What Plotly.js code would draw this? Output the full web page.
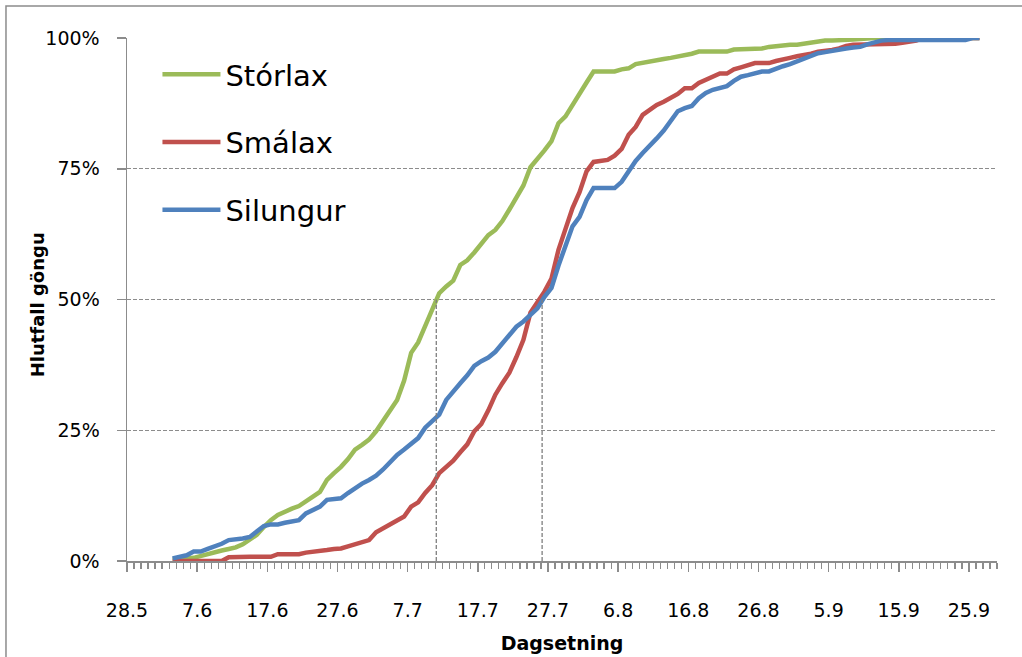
<!DOCTYPE html>
<html>
<head>
<meta charset="utf-8">
<script src="https://cdn.plot.ly/plotly-3.0.1.min.js"></script>
<style>
  html, body { margin: 0; padding: 0; background: #fff; }
  #chart { width: 1022px; height: 657px; }
</style>
</head>
<body>
<div id="chart"></div>
<script>
// ---- data ----
const firstDay = '2013-06-03';   // first day with counts (3.6)
const seriesNames = ['Stórlax', 'Smálax', 'Silungur'];
const seriesColors = ['#9BBB59', '#C0504D', '#4F81BD'];

// cumulative share of run (%), one value per day starting at firstDay
const storlax = [
  0.3, 0.5, 0.5, 0.6, 1.0, 1.3, 1.6, 2.0, 2.3, 2.6,
  3.2, 4.0, 5.0, 6.5, 7.8, 8.8, 9.5, 10.0, 10.5, 11.5,
  12.3, 13.2, 15.5, 16.8, 18.0, 19.5, 21.3, 22.2, 23.2, 24.8,
  26.8, 28.8, 30.8, 34.5, 39.8, 41.8, 45.0, 48.0, 51.2, 52.5,
  53.6, 56.6, 57.5, 59.0, 60.5, 62.3, 63.3, 65.0, 67.2, 69.5,
  71.8, 75.3, 76.8, 78.5, 80.3, 83.7, 85.0, 87.3, 89.4, 91.5,
  93.6, 93.6, 93.6, 93.6, 94.0, 94.2, 95.0, 95.3, 95.6, 95.8,
  96.0, 96.2, 96.4, 96.6, 97.0, 97.4, 97.4, 97.4, 97.4, 97.4,
  97.8, 97.8, 97.8, 97.8, 98.0, 98.3, 98.5, 98.7, 98.7, 98.7,
  98.9, 99.3, 99.5, 99.5, 99.5, 99.5, 99.5, 99.7, 99.8, 100,
  100, 100, 100, 100, 100, 100, 100, 100, 100, 100,
  100, 100, 100, 100, 100, 100
];
const smalax = [
  0, 0, 0, 0, 0, 0, 0, 0, 0.7, 0.8,
  0.8, 0.8, 0.8, 0.8, 0.8, 1.3, 1.3, 1.3, 1.3, 1.6,
  1.7, 1.8, 2.1, 2.3, 2.4, 2.8, 3.2, 3.6, 4.0, 5.5,
  6.3, 7.0, 7.8, 8.5, 10.4, 11.2, 13.0, 14.5, 16.8, 18.0,
  19.2, 20.8, 22.3, 24.8, 26.2, 28.8, 31.8, 34.0, 36.0, 39.0,
  42.3, 47.5, 49.5, 51.5, 54.0, 59.5, 63.5, 67.5, 70.5, 74.5,
  76.3, 76.5, 76.7, 77.5, 78.8, 81.5, 83.0, 85.3, 86.2, 87.2,
  87.8, 88.5, 89.3, 90.4, 90.4, 91.4, 92.0, 92.8, 93.2, 93.2,
  94.0, 94.4, 94.8, 95.2, 95.2, 95.2, 95.6, 96.0, 96.2, 96.5,
  96.7, 97.0, 97.4, 97.5, 97.7, 98.0, 98.5, 98.7, 98.7, 98.7,
  98.7, 98.7, 98.7, 98.9, 99.1, 99.2, 99.5, 100, 100, 100,
  100, 100, 100, 100, 100, 100
];
const silungur = [
  0.5, 0.8, 1.1, 1.8, 1.8, 2.3, 2.7, 3.3, 4.0, 4.1,
  4.3, 4.6, 5.6, 6.7, 7.0, 7.0, 7.3, 7.5, 7.8, 9.1,
  9.7, 10.4, 11.7, 11.9, 12.0, 13.0, 14.0, 14.8, 15.5, 16.3,
  17.5, 18.8, 20.3, 21.3, 22.3, 23.5, 25.5, 26.8, 28.0, 30.8,
  32.5, 34.0, 35.5, 37.3, 38.2, 38.9, 40.0, 41.5, 43.3, 44.8,
  45.8, 47.0, 48.3, 50.5, 52.2, 56.5, 60.5, 64.0, 65.8, 69.0,
  71.3, 71.3, 71.3, 71.3, 72.5, 74.5, 76.5, 78.0, 79.3, 80.8,
  82.3, 84.3, 86.0, 86.6, 87.0, 88.5, 89.5, 90.1, 90.5, 90.8,
  91.8, 92.6, 92.9, 93.3, 93.6, 93.6, 94.2, 94.6, 95.0, 95.5,
  96.0, 96.5, 97.1, 97.3, 97.6, 97.7, 98.0, 98.2, 98.3, 98.8,
  99.2, 99.5, 99.6, 99.6, 99.6, 99.6, 99.6, 99.6, 99.6, 99.6,
  99.6, 99.6, 99.6, 99.6, 100, 100
];

// x-axis tick dates and their labels (every 10 days)
const tickDates = ['2013-05-28','2013-06-07','2013-06-17','2013-06-27','2013-07-07','2013-07-17',
                   '2013-07-27','2013-08-06','2013-08-16','2013-08-26','2013-09-05','2013-09-15','2013-09-25'];
const tickLabels = ['28.5','7.6','17.6','27.6','7.7','17.7','27.7','6.8','16.8','26.8','5.9','15.9','25.9'];
const yTickVals = [0, 25, 50, 75, 100];
const yTickLabels = ['0%', '25%', '50%', '75%', '100%'];

// 50% passage dates (drop lines)
const medianDates = ['2013-07-10 14:00', '2013-07-25 16:00'];
const medianLevel = 50;

const xTitle = 'Dagsetning';
const yTitle = 'Hlutfall göngu';

// ---- build ----
const DAY = 86400000;
function addDays(dateStr, n) {
  const t = Date.parse(dateStr + 'T00:00:00Z') + n * DAY;
  return new Date(t).toISOString().slice(0, 10);
}
function dayList(n) { const a = []; for (let i = 0; i < n; i++) a.push(addDays(firstDay, i)); return a; }
function halfDayBefore(dateStr) {
  return new Date(Date.parse(dateStr + 'T00:00:00Z') - DAY / 2).toISOString().replace('T', ' ').slice(0, 19);
}

const allSeries = [storlax, smalax, silungur];
const traces = allSeries.map((vals, i) => ({
  type: 'scatter', mode: 'lines',
  x: dayList(vals.length), y: vals,
  name: seriesNames[i],
  legendgroup: 'g' + i,
  line: { color: seriesColors[i], width: 4.5 },
  hoverinfo: 'x+y+name'
}));

const shapes = medianDates.map(d => ({
  type: 'line', xref: 'x', yref: 'y',
  x0: d, x1: d, y0: 0, y1: medianLevel,
  line: { color: '#7f7f7f', width: 1.3, dash: '4px,2px' }
}));
// outer chart frame
shapes.push({
  type: 'rect', xref: 'paper', yref: 'paper',
  x0: -0.1391, x1: 1.05, y0: -0.25, y1: 1.0612,
  line: { color: '#8c8c8c', width: 1.5 }, fillcolor: 'rgba(0,0,0,0)', layer: 'above'
});

const layout = {
  width: 1022, height: 657,
  margin: { l: 127, r: 25, t: 38, b: 96 },
  paper_bgcolor: '#ffffff', plot_bgcolor: '#ffffff',
  font: { family: 'DejaVu Sans, sans-serif', color: '#000000' },
  showlegend: true,
  legend: {
    x: 0.035, y: 0.979, xanchor: 'left', yanchor: 'top',
    bgcolor: 'rgba(0,0,0,0)', borderwidth: 0,
    font: { family: 'DejaVu Sans, sans-serif', size: 29, color: '#000' },
    traceorder: 'grouped', tracegroupgap: 27,
    itemwidth: 58
  },
  xaxis: {
    type: 'date',
    range: ['2013-05-27 12:00', '2013-09-28 12:00'],
    tickmode: 'array',
    tickvals: tickDates.map(halfDayBefore),
    ticktext: tickLabels,
    ticklabelshift: 3.5,
    ticklabelstandoff: 23,
    ticks: 'outside', ticklen: 9, tickwidth: 1.5, tickcolor: '#8c8c8c',
    showline: true, linecolor: '#8c8c8c', linewidth: 1.5,
    showgrid: false, zeroline: false,
    tickfont: { family: 'DejaVu Sans, sans-serif', size: 19, color: '#000' },
    minor: { tickmode: 'linear', tick0: '2013-05-27 12:00', dtick: DAY, ticks: 'outside', ticklen: 6, tickwidth: 1.2, tickcolor: '#8c8c8c', showgrid: false },
    title: { text: xTitle, standoff: 16, font: { family: 'DejaVu Sans, sans-serif', size: 19, color: '#000', weight: 'bold' } },
    fixedrange: true
  },
  yaxis: {
    range: [0, 100],
    tickmode: 'array', tickvals: yTickVals, ticktext: yTickLabels,
    ticks: 'outside', ticklen: 9, tickwidth: 1.5, tickcolor: '#8c8c8c',
    ticklabelstandoff: 13,
    showline: true, linecolor: '#8c8c8c', linewidth: 1.5,
    showgrid: true, gridcolor: '#8c8c8c', gridwidth: 1.3, griddash: '4px,2px',
    zeroline: false,
    tickfont: { family: 'DejaVu Sans, sans-serif', size: 19, color: '#000' },
    fixedrange: true
  },
  annotations: [{
    xref: 'paper', yref: 'paper', x: -0.1034, y: 0.489,
    xanchor: 'center', yanchor: 'middle', textangle: -90, showarrow: false,
    text: yTitle,
    font: { family: 'DejaVu Sans, sans-serif', size: 18, color: '#000', weight: 'bold' }
  }],
  shapes: shapes
};

Plotly.newPlot('chart', traces, layout, { displayModeBar: false, staticPlot: true });
</script>
</body>
</html>
